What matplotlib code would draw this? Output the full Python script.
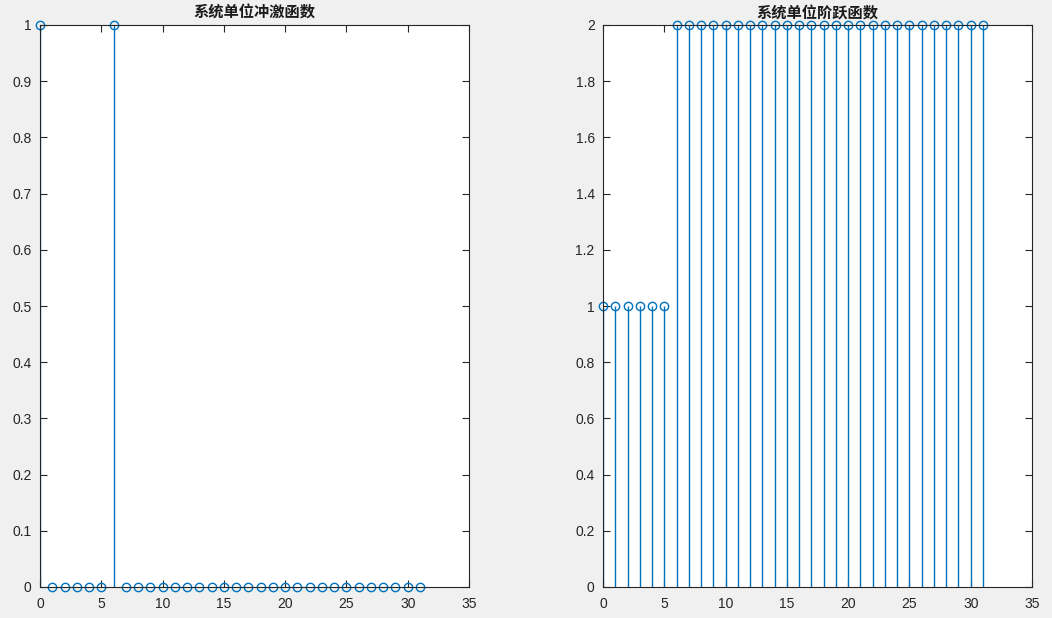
import matplotlib
matplotlib.use("Agg")
import matplotlib.pyplot as plt
import numpy as np

plt.rcParams['font.family'] = ['Liberation Sans', 'Noto Sans CJK SC', 'DejaVu Sans']

n = list(range(0, 32))
impulse = [1, 0, 0, 0, 0, 0, 1] + [0] * 25
step = [1, 1, 1, 1, 1, 1] + [2] * 26
titles = ["系统单位冲激函数", "系统单位阶跃函数"]
xticks = [0, 5, 10, 15, 20, 25, 30, 35]
yticks_left = [round(0.1 * i, 1) for i in range(11)]
yticks_right = [round(0.2 * i, 1) for i in range(11)]

color = '#0072BD'
fig = plt.figure(figsize=(10.52, 6.18), dpi=100, facecolor='#F0F0F0')
W, H = 1052, 618
axes_px = [(40, 469), (603, 1032)]
top_px, bot_px = 25, 587

datasets = [(impulse, yticks_left, 1.0), (step, yticks_right, 2.0)]
for (x0, x1), (vals, yt, ymax), title in zip(axes_px, datasets, titles):
    ax = fig.add_axes([x0 / W, 1 - bot_px / H, (x1 - x0) / W, (bot_px - top_px) / H])
    ax.set_facecolor('white')
    ml, sl, bl = ax.stem(n, vals, basefmt=' ')
    plt.setp(sl, color=color, linewidth=1.0)
    plt.setp(ml, markerfacecolor='none', markeredgecolor=color, markersize=6,
             markeredgewidth=1.0, clip_on=False)
    ax.set_xlim(0, 35)
    ax.set_ylim(0, ymax)
    ax.set_xticks(xticks)
    ax.set_yticks(yt)
    ax.set_yticklabels([f"{v:g}" for v in yt])
    ax.tick_params(direction='in', top=True, right=True, length=5, width=0.8,
                   labelsize=10, colors='#262626')
    ax.tick_params(axis='x', pad=7)
    ax.tick_params(axis='y', pad=6)
    for s in ax.spines.values():
        s.set_color('#262626')
        s.set_linewidth(0.8)
    ax.set_title(title, fontsize=11, fontweight='bold', color='#1a1a1a', pad=5,
                 family=['Noto Sans CJK SC', 'DejaVu Sans'])

fig.savefig('out.png', dpi=100, facecolor=fig.get_facecolor())
